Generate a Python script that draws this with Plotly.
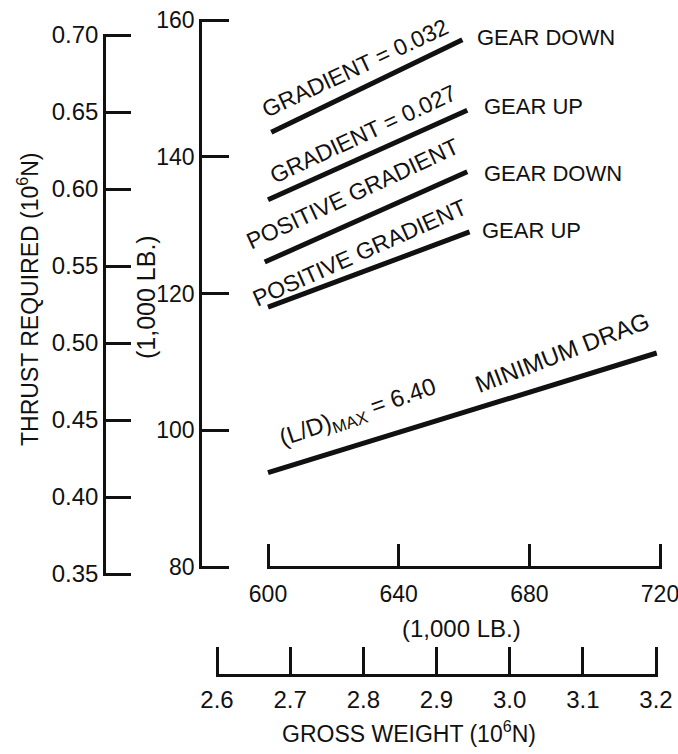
import plotly.graph_objects as go

W, H = 678, 754

# ---- data (1,000 lb units) ----
weight_grad032 = [601, 659.5]
thrust_grad032 = [143.6, 157.1]
weight_grad027 = [600, 661]
thrust_grad027 = [133.7, 146.8]
weight_pos_down = [599, 661]
thrust_pos_down = [124.6, 137.8]
weight_pos_up = [600, 661.7]
thrust_pos_up = [118.0, 129.0]
weight_min_drag = [600, 719]
thrust_min_drag = [93.8, 111.3]

lb_x_ticks = [600, 640, 680, 720]
lb_y_ticks = [80, 100, 120, 140, 160]
n_x_ticks = [2.6, 2.7, 2.8, 2.9, 3.0, 3.1, 3.2]
n_y_ticks = [0.35, 0.40, 0.45, 0.50, 0.55, 0.60, 0.65, 0.70]

FONT = "Liberation Sans, Arial, sans-serif"
BLACK = "#111111"
EXT = 1.5  # px the axis extends beyond its end ticks (keeps end ticks drawn)


def fx(px):
    return px / W


def fy(py):
    return 1 - py / H


def h_axis(p0, p1, v0, v1):
    """domain/range for a horizontal axis whose value v0 sits at pixel p0, v1 at p1"""
    s = (v1 - v0) / (p1 - p0)
    return [fx(p0 - EXT), fx(p1 + EXT)], [v0 - EXT * s, v1 + EXT * s]


def v_axis(p_lo, p_hi, v_lo, v_hi):
    """p_lo: pixel y of v_lo (bottom), p_hi: pixel y of v_hi (top)"""
    s = (v_hi - v_lo) / (p_lo - p_hi)
    return [fy(p_lo + EXT), fy(p_hi - EXT)], [v_lo - EXT * s, v_hi + EXT * s]


fig = go.Figure()

line_style = dict(color=BLACK, width=5)
for xs, ys in [(weight_grad032, thrust_grad032), (weight_grad027, thrust_grad027),
               (weight_pos_down, thrust_pos_down), (weight_pos_up, thrust_pos_up),
               (weight_min_drag, thrust_min_drag)]:
    fig.add_trace(go.Scatter(x=xs, y=ys, mode="lines", line=line_style,
                             showlegend=False, hoverinfo="skip", xaxis="x", yaxis="y"))

# invisible helper traces so the extra axes get drawn
fig.add_trace(go.Scatter(x=[lb_x_ticks[0], lb_x_ticks[-1]], y=[None, None], mode="lines",
                         showlegend=False, hoverinfo="skip", xaxis="x3", yaxis="y"))
fig.add_trace(go.Scatter(x=[n_x_ticks[0], n_x_ticks[-1]], y=[None, None], mode="lines",
                         showlegend=False, hoverinfo="skip", xaxis="x2", yaxis="y"))
fig.add_trace(go.Scatter(x=[None, None], y=[n_y_ticks[0], n_y_ticks[-1]], mode="lines",
                         showlegend=False, hoverinfo="skip", xaxis="x", yaxis="y2"))

scale = (660 - 268) / (lb_x_ticks[-1] - lb_x_ticks[0])
x_lo = lb_x_ticks[0] - 268 / scale
x_hi = lb_x_ticks[0] + (W - 268) / scale

axis_common = dict(showgrid=False, zeroline=False, showline=True, linecolor=BLACK,
                   linewidth=2.5, ticks="inside", tickcolor=BLACK, tickwidth=2.5,
                   fixedrange=True, automargin=False, ticklabeloverflow="allow")

y_dom, y_rng = v_axis(567, 20, 80, 160)
x3_dom, x3_rng = h_axis(268, 660, 600, 720)
x2_dom, x2_rng = h_axis(217, 656, 2.6, 3.2)
y2_dom, y2_rng = v_axis(574, 35, 0.35, 0.70)

fig.update_layout(
    template="none",
    width=W, height=H,
    margin=dict(l=0, r=0, t=0, b=0, pad=0, autoexpand=False),
    paper_bgcolor="white", plot_bgcolor="rgba(0,0,0,0)",
    font=dict(family=FONT, color=BLACK, size=23),
    showlegend=False,
    xaxis=dict(domain=[0, 1], range=[x_lo, x_hi], visible=False, fixedrange=True,
               automargin=False),
    yaxis=dict(domain=y_dom, range=y_rng, anchor="free", position=fx(200),
               tickvals=lb_y_ticks, ticklen=27, side="left",
               tickfont=dict(family=FONT, size=23, color=BLACK), **axis_common),
    xaxis3=dict(domain=x3_dom, range=x3_rng, anchor="free", position=fy(567),
                tickvals=lb_x_ticks, ticklen=22, side="bottom", ticklabelstandoff=6,
                tickfont=dict(family=FONT, size=23, color=BLACK), **axis_common),
    xaxis2=dict(domain=x2_dom, range=x2_rng, anchor="free", position=fy(675),
                tickvals=n_x_ticks, tickformat=".1f", ticklen=27, side="bottom",
                ticklabelstandoff=2,
                tickfont=dict(family=FONT, size=24, color=BLACK), **axis_common),
    yaxis2=dict(domain=y2_dom, range=y2_rng, anchor="free", position=fx(104),
                tickvals=n_y_ticks, tickformat=".2f", ticklen=25, side="left",
                tickfont=dict(family=FONT, size=24, color=BLACK), **axis_common),
)


def note(text, px, py, angle=0, xanchor="center", size=23):
    fig.add_annotation(text=text, x=fx(px), y=fy(py), xref="paper", yref="paper",
                       showarrow=False, textangle=angle, xanchor=xanchor, yanchor="middle",
                       font=dict(family=FONT, size=size, color=BLACK))


note("GEAR DOWN", 475, 37, xanchor="left", size=22)
note("GEAR UP", 482, 107, xanchor="left", size=22)
note("GEAR DOWN", 482, 173, xanchor="left", size=22)
note("GEAR UP", 480, 230, xanchor="left", size=22)
note("GRADIENT = 0.032", 355, 68, angle=-25)
note("GRADIENT = 0.027", 363, 134, angle=-25)
note("POSITIVE GRADIENT", 352, 194, angle=-25)
note("POSITIVE GRADIENT", 359, 253, angle=-24)
note("(L/D)<sub>MAX</sub> = 6.40", 358, 413, angle=-19, size=24)
note("MINIMUM DRAG", 562, 352, angle=-21, size=24)
note("(1,000 LB.)", 146, 297, angle=-90, size=25)
note("THRUST REQUIRED (10<sup>6</sup>N)", 28, 299, angle=-90, size=23)
note("(1,000 LB.)", 462, 628, size=24)
note("GROSS WEIGHT (10<sup>6</sup>N)", 409, 732, size=23)

fig.write_html("out.html")
